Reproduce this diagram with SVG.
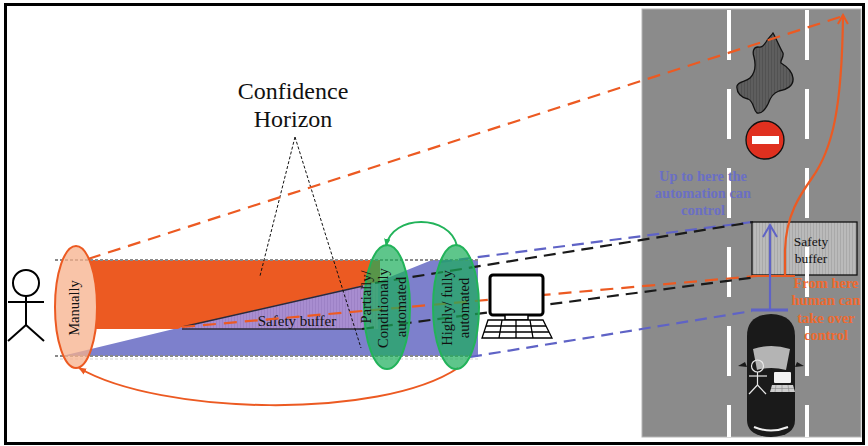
<svg xmlns="http://www.w3.org/2000/svg" width="868" height="446" viewBox="0 0 868 446">
  <style>
    .serif { font-family: "Liberation Serif", "Times New Roman", serif; }
    .lbl { font-family: "Liberation Serif", "Times New Roman", serif; font-size: 14.5px; fill: #111; text-anchor: middle; }
    .dash-or { fill: none; stroke: #ec5a22; stroke-width: 2.2; stroke-dasharray: 13 8; }
    .dash-bk { fill: none; stroke: #1a1a1a; stroke-width: 2.2; stroke-dasharray: 12 7; }
    .dash-bl { fill: none; stroke: #5f63c6; stroke-width: 2.2; stroke-dasharray: 12 7; }
    .guide { fill: none; stroke: #8a8a8a; stroke-width: 2; stroke-dasharray: 3 2; }
    .hint { fill: none; stroke: #111; stroke-width: 1; stroke-dasharray: 3 2; }
    .mode { fill: #1aae5a; fill-opacity: 0.7; stroke: #22b35a; stroke-width: 2; }
    .bluetxt { font-family: "Liberation Serif", serif; font-weight: bold; font-size: 14.5px; fill: #6a6fc4; text-anchor: middle; }
    .ortxt { font-family: "Liberation Serif", serif; font-weight: bold; font-size: 14.5px; fill: #ee6a30; text-anchor: middle; }
  </style>
  <defs>
    <pattern id="stripesPurple" width="3" height="10" patternUnits="userSpaceOnUse">
      <rect width="3" height="10" fill="#a88dd0"/>
      <rect width="1" height="10" fill="#9d82c6"/>
    </pattern>
    <pattern id="stripesGray" width="3" height="10" patternUnits="userSpaceOnUse">
      <rect width="3" height="10" fill="#bababa"/>
      <rect width="1" height="10" fill="#a9a9a9"/>
    </pattern>
    <pattern id="stripesDark" width="3" height="10" patternUnits="userSpaceOnUse">
      <rect width="3" height="10" fill="#5e5e5e"/>
      <rect width="1" height="10" fill="#525252"/>
    </pattern>
    <marker id="chevOrange" viewBox="0 0 12 12" refX="10" refY="6" markerWidth="12" markerHeight="12" markerUnits="userSpaceOnUse" orient="auto">
      <path d="M1,1 L10,6 L1,11" fill="none" stroke="#ec5a22" stroke-width="2"/>
    </marker>
    <marker id="chevBlue" viewBox="0 0 16 16" refX="14" refY="8" markerWidth="16" markerHeight="16" markerUnits="userSpaceOnUse" orient="auto">
      <path d="M2,1 L14,8 L2,15" fill="none" stroke="#5f63c6" stroke-width="2"/>
    </marker>
    <marker id="headGreen" viewBox="0 0 10 10" refX="9" refY="5" markerWidth="8" markerHeight="8" markerUnits="userSpaceOnUse" orient="auto">
      <path d="M0,1 L10,5 L0,9 z" fill="#22b35a"/>
    </marker>
    <marker id="headOrange" viewBox="0 0 10 10" refX="9" refY="5" markerWidth="8" markerHeight="8" markerUnits="userSpaceOnUse" orient="auto">
      <path d="M0,1 L10,5 L0,9 z" fill="#ec5a22"/>
    </marker>
  </defs>

  <rect x="0" y="0" width="868" height="446" fill="#ffffff"/>
  <rect x="5.5" y="4.5" width="858" height="439" fill="none" stroke="#000" stroke-width="3"/>

  <!-- road scene -->
  <g id="road">
    <rect x="642" y="9" width="219" height="428" fill="#8b8b8b" stroke="#b5b5b5" stroke-width="1"/>
    <path id="obstacle" d="M773,33 C776,38 779,46 783,53 C784,58 780,60 781,63 C786,66 792,70 793,78 C794,86 786,90 779,91 C773,93 770,98 768,104 C765,110 761,114 757,113 C753,110 754,101 748,99 C742,98 736,93 737,86 C738,81 746,82 750,78 C755,73 756,65 754,57 C752,51 754,47 758,47 C762,48 764,45 766,42 C768,38 771,36 773,33 Z" fill="url(#stripesDark)" stroke="#111" stroke-width="1.3"/>
    <g id="no-entry">
      <circle cx="765" cy="140" r="19" fill="#e0301f" stroke="#111" stroke-width="1.3"/>
      <rect x="752" y="136" width="27" height="8" fill="#fff"/>
    </g>
    <g id="buffer-zone">
      <rect x="752" y="222" width="105" height="53" fill="url(#stripesGray)" stroke="#111" stroke-width="1.3"/>
    </g>
    <line x1="729" y1="10" x2="729" y2="437" stroke="#fff" stroke-width="4" stroke-dasharray="50 29"/>
    <line x1="807" y1="10" x2="807" y2="437" stroke="#fff" stroke-width="4" stroke-dasharray="50 29"/>
    <text class="serif" x="811" y="246" font-size="13.5" text-anchor="middle" fill="#111">Safety</text>
    <text class="serif" x="811" y="263" font-size="13.5" text-anchor="middle" fill="#111">buffer</text>
  </g>

  <!-- confidence bands -->
  <g id="bands">
    <polygon points="62,356 182,327 375,283 432,260 478,260 478,356" fill="#7d80cc"/>
    <polygon points="89,260 380,260 380,282 182,327 178,329 95.6,329 96.5,320 97,310 97,300 96.5,290 95,280 93,270" fill="#ec5a22"/>
    <polygon points="182,327 378,282 378,329 182,329" fill="url(#stripesPurple)"/>
    <line x1="182" y1="327" x2="363" y2="286" stroke="#2a2a3a" stroke-width="1.5"/>
    <line x1="182" y1="329" x2="362" y2="329" stroke="#2a2a3a" stroke-width="1.5"/>
    <line class="guide" x1="55" y1="260" x2="478" y2="260"/>
    <line class="guide" x1="55" y1="356" x2="478" y2="356"/>
    <line x1="60" y1="359" x2="478" y2="359" stroke="#e2e2e2" stroke-width="1.5" stroke-dasharray="3 2"/>
    <text class="serif" x="297" y="326" font-size="15" text-anchor="middle" fill="#111">Safety buffer</text>
  </g>

  <!-- driver -->
  <g id="driver" fill="none" stroke="#000" stroke-width="2">
    <circle cx="26" cy="283" r="13"/>
    <line x1="26" y1="296" x2="26" y2="325"/>
    <line x1="8" y1="302" x2="44" y2="302"/>
    <line x1="26" y1="325" x2="8" y2="341"/>
    <line x1="26" y1="325" x2="44" y2="341"/>
  </g>

  <g id="manually">
    <ellipse cx="76" cy="307" rx="21" ry="61" fill="#f7b08b" fill-opacity="0.75" stroke="#ec5a22" stroke-width="2"/>
    <text class="lbl" transform="translate(79,308) rotate(-90)" font-size="15">Manually</text>
  </g>

  <!-- confidence horizon label -->
  <g id="confidence-horizon">
    <text class="serif" x="293" y="99" font-size="24" text-anchor="middle" fill="#111">Confidence</text>
    <text class="serif" x="293" y="127" font-size="24" text-anchor="middle" fill="#111">Horizon</text>
    <line class="hint" x1="295" y1="137" x2="260" y2="276"/>
    <line class="hint" x1="295" y1="137" x2="361" y2="348"/>
  </g>

  <!-- connectors -->
  <g id="connectors">
    <line class="dash-or" x1="88" y1="259" x2="840" y2="17"/>
    <line class="dash-bl" x1="440" y1="262" x2="752" y2="222"/>
    <line class="dash-bk" x1="375" y1="283" x2="753" y2="222"/>
    <line class="dash-or" x1="182" y1="327" x2="757" y2="276"/>
    <line class="dash-bk" x1="362" y1="329" x2="757" y2="277"/>
    <line class="dash-bl" x1="470" y1="357" x2="752" y2="311"/>
    <path d="M457,246 C450,214 392,214 386,246" fill="none" stroke="#22b35a" stroke-width="2" marker-end="url(#headGreen)"/>
    <path d="M458,368 C380,420 160,415 79,368" fill="none" stroke="#ec5a22" stroke-width="2" marker-end="url(#headOrange)"/>
    <line x1="752" y1="276" x2="795" y2="276" stroke="#ec5a22" stroke-width="2.2"/>
    <path d="M785,276 L785,250 C786,215 800,195 812,178 C832,150 842,110 843,15" fill="none" stroke="#ec5a22" stroke-width="2.2" marker-end="url(#chevOrange)"/>
    <line x1="770" y1="310" x2="770" y2="225" stroke="#5f63c6" stroke-width="2.2" marker-end="url(#chevBlue)"/>
    <line x1="751" y1="310" x2="788" y2="310" stroke="#5f63c6" stroke-width="3"/>
  </g>

  <!-- automation levels -->
  <g id="partially">
    <ellipse class="mode" cx="387" cy="307" rx="23" ry="62"/>
    <text class="lbl" transform="translate(371,297) rotate(-90)">Partially/</text>
    <text class="lbl" transform="translate(388,308) rotate(-90)">Conditionally</text>
    <text class="lbl" transform="translate(406,307) rotate(-90)">automated</text>
  </g>
  <g id="highly">
    <ellipse class="mode" cx="456" cy="307" rx="23" ry="62"/>
    <text class="lbl" transform="translate(452,308) rotate(-90)">Highly/ fully</text>
    <text class="lbl" transform="translate(469,308) rotate(-90)">automated</text>
  </g>

  <!-- automation system -->
  <g id="computer" stroke="#000" fill="#fff">
    <rect x="490" y="275" width="53" height="40" rx="3" stroke-width="3"/>
    <rect x="505" y="315" width="23" height="5" stroke-width="1.5"/>
    <path d="M488,320 L543,320 L552,338 L482,338 Z" stroke-width="1.3"/>
    <path d="M486,326 L546,326 M484,332 L549,332 M502,320 L499,338 M516,320 L516,338 M530,320 L533,338" fill="none" stroke-width="1.3"/>
  </g>

  <!-- road labels -->
  <g id="automation-limit">
    <text class="bluetxt" x="703" y="181">Up to here the</text>
    <text class="bluetxt" x="703" y="198">automation can</text>
    <text class="bluetxt" x="703" y="215">control</text>
  </g>
  <g id="takeover-point">
    <text class="ortxt" x="826" y="288">From here</text>
    <text class="ortxt" x="826" y="305">human can</text>
    <text class="ortxt" x="826" y="323">take over</text>
    <text class="ortxt" x="826" y="340">control</text>
  </g>

  <!-- ego vehicle -->
  <g id="vehicle">
    <path d="M745,362 L738,366 L747,367 Z M797,362 L804,366 L795,367 Z" fill="#1a1a1a"/>
    <path d="M747,336 Q747,315 771,314 Q795,315 795,336 L795,420 Q795,436 771,437 Q747,436 747,420 Z" fill="#1a1a1a"/>
    <path d="M753,349 Q771,343 790,349 L786,370 Q771,366 757,370 Z" fill="#b4b4b4"/>
    <g fill="none" stroke="#e8e8e8" stroke-width="1.2">
      <circle cx="757.5" cy="366" r="6"/>
      <line x1="757.5" y1="372" x2="757.5" y2="385"/>
      <line x1="749" y1="376" x2="767" y2="376"/>
      <line x1="757.5" y1="385" x2="749" y2="394"/>
      <line x1="757.5" y1="385" x2="766" y2="394"/>
    </g>
    <rect x="774" y="372" width="17" height="11" rx="1" fill="#f2f2f2"/>
    <path d="M772,385 L793,385 L795,392 L770,392 Z" fill="#cfcfcf"/>
    <path d="M776,385 L775,392 M782,385 L782,392 M788,385 L789,392 M771,388.5 L794,388.5" stroke="#888" stroke-width="0.6" fill="none"/>
    <path d="M754,427 Q771,434 788,427" fill="none" stroke="#f0f0f0" stroke-width="2"/>
  </g>
</svg>
